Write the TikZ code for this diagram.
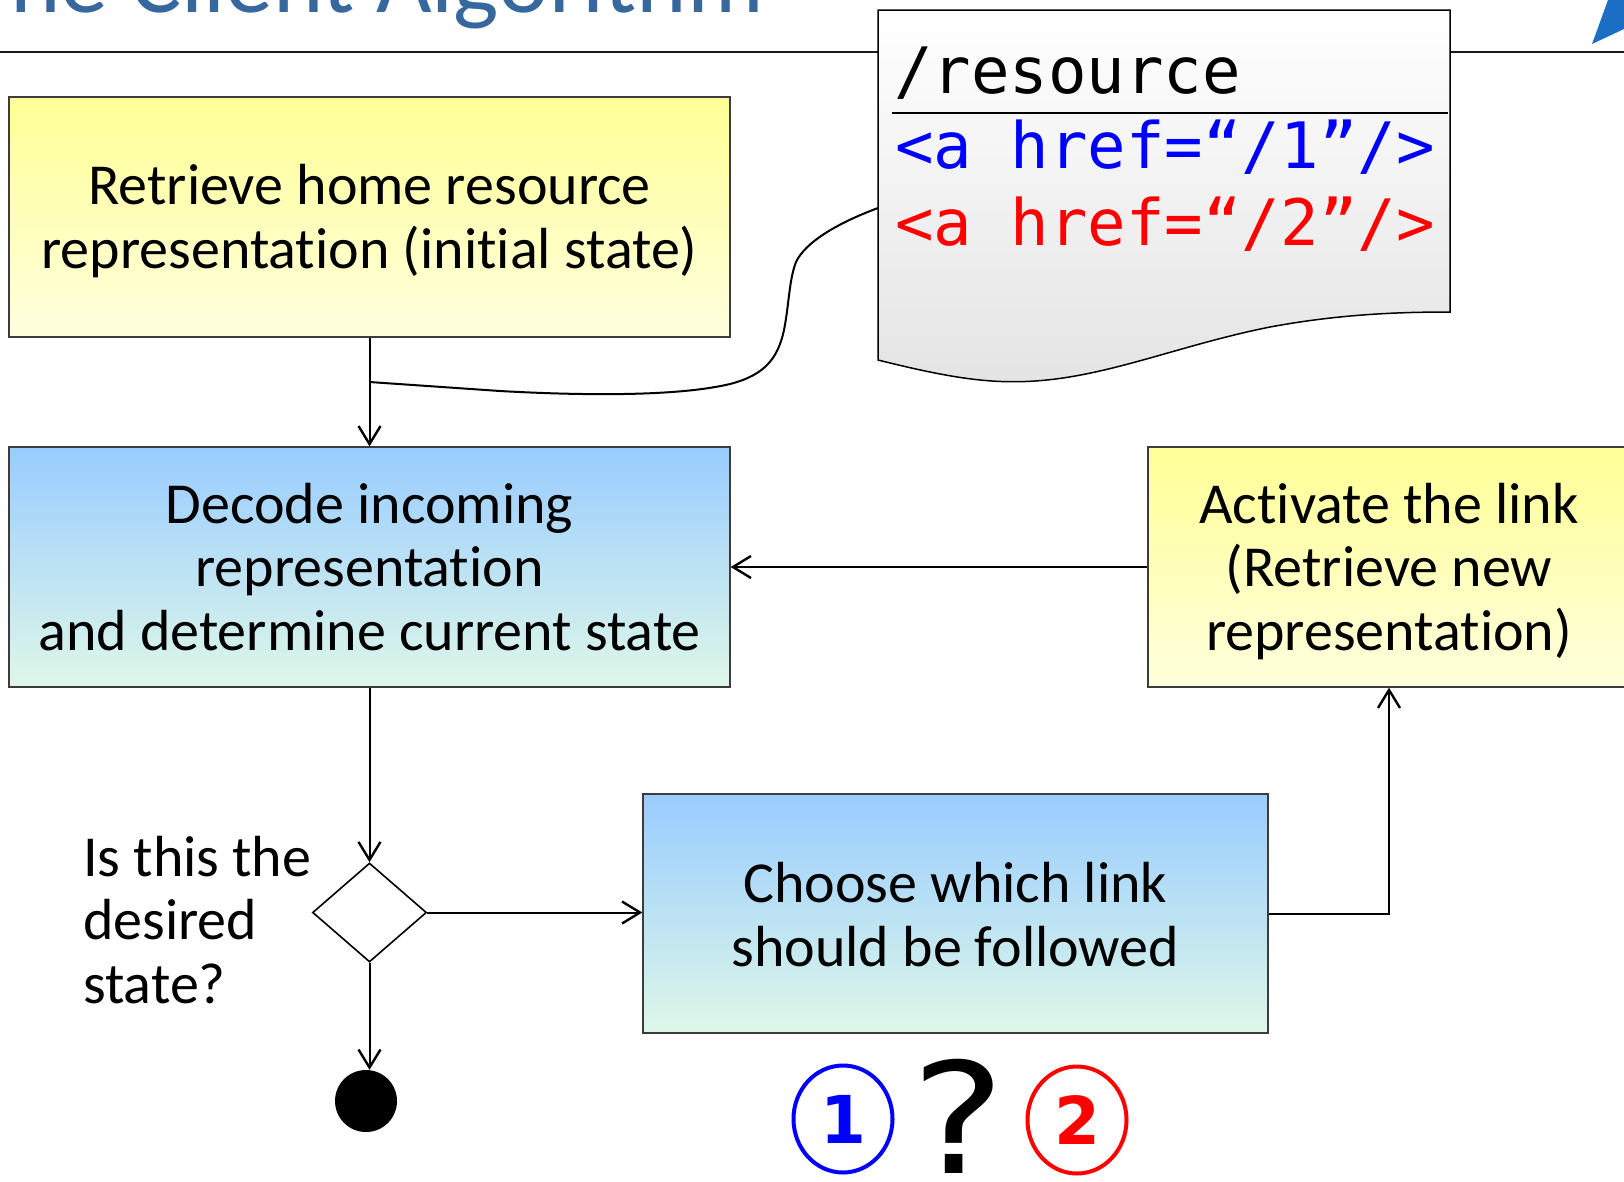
\documentclass[tikz,border=0pt]{standalone}
\usepackage{fontspec}
\setmainfont{Carlito}[Ligatures={TeX,NoCommon}]
\newfontfamily\codefont{DejaVu Sans Mono}
\newfontfamily\dvfont{DejaVu Sans}
\usetikzlibrary{arrows.meta,shapes.geometric}
\definecolor{titleblue}{RGB}{54,104,158}
\definecolor{logoblue}{RGB}{28,110,196}
\definecolor{yelTop}{RGB}{255,255,150}
\definecolor{yelBot}{RGB}{255,255,222}
\definecolor{bluTop}{RGB}{153,204,255}
\definecolor{bluBot}{RGB}{222,247,232}
\definecolor{boxline}{RGB}{60,60,60}
\definecolor{docBot}{RGB}{228,228,228}
\definecolor{codeblue}{RGB}{0,0,255}
\definecolor{codered}{RGB}{255,0,0}
\begin{document}
\begin{tikzpicture}[x=1pt,y=-1pt,
  box/.style={draw=boxline, line width=1.3pt, rectangle, inner sep=0pt},
  yelbox/.style={box, top color=yelTop, bottom color=yelBot},
  blubox/.style={box, top color=bluTop, bottom color=bluBot},
  boxtext/.style={inner sep=0pt, anchor=base, font=\fontsize{58}{63.5}\selectfont},
  conn/.style={line width=2pt, draw=black},
  arr/.style={conn, -{Straight Barb[length=18pt,width=22pt,line width=2.4pt]}},
  code/.style={inner sep=0pt, anchor=base west, font=\codefont\fontsize{64}{70}\selectfont},
  numcirc/.style={ellipse, line width=4pt, minimum width=99pt, minimum height=107pt, inner sep=0pt, font=\dvfont\bfseries\fontsize{66}{70}\selectfont}
]
\useasboundingbox (0,0) rectangle (1624,1181);
\clip (0,0) rectangle (1624,1181);

% title and header rule
\node[inner sep=0pt, anchor=base west, text=titleblue, font=\fontsize{96}{100}\selectfont] (title) at (10,12) {he Client Algorithm};
\draw[line width=2.4pt, black!90] (0,52) -- (1624,52);
\fill[logoblue] (1608,0) -- (1592,44) -- (1624,29) -- (1624,0) -- cycle;

% document shape
\draw[line width=1.5pt, top color=white, bottom color=docBot]
  (878,10) -- (1450,10) -- (1450,312)
  .. controls (1400,312) and (1340,314) .. (1270,327)
  .. controls (1180,345) and (1110,376) .. (1035,381)
  .. controls (990,384) and (950,378) .. (878,360) -- cycle;
\draw[line width=1.5pt] (892,113) -- (1448,113);
\node[code] (res) at (894,93) {/resource};
\node[code, text=codeblue] (link1) at (895,168) {<a href=“/1”/>};
\node[code, text=codered] (link2) at (895,245) {<a href=“/2”/>};

% boxes
\node[yelbox, minimum width=721pt, minimum height=240pt] (A) at (369.5,217) {};
\node[blubox, minimum width=721pt, minimum height=240pt] (B) at (369.5,567) {};
\node[yelbox, minimum width=482pt, minimum height=240pt] (C) at (1389,567) {};
\node[blubox, minimum width=625pt, minimum height=239pt] (D) at (955.5,913.5) {};

\node[boxtext] (tA) at (369.5,268) {\begin{tabular}[b]{@{}c@{}}Retrieve home resource\\representation (initial state)\end{tabular}};
\node[boxtext] (tB) at (369.5,650) {\begin{tabular}[b]{@{}c@{}}Decode incoming\\representation\\and determine current state\end{tabular}};
\node[boxtext] (tC) at (1389,650) {\begin{tabular}[b]{@{}c@{}}Activate the link\\(Retrieve new\\representation)\end{tabular}};
\node[boxtext] (tD) at (955.5,966) {\begin{tabular}[b]{@{}c@{}}Choose which link\\should be followed\end{tabular}};
\node[boxtext, anchor=base west] (tQ) at (83,1003) {\begin{tabular}[b]{@{}l@{}}Is this the\\desired\\state?\end{tabular}};

% decision and final
\node[diamond, draw=black, fill=white, line width=1.6pt, minimum width=114pt, minimum height=99pt, inner sep=0pt] (dia) at (369.5,912.5) {};
\node[circle, fill=black, minimum size=62pt, inner sep=0pt] (fin) at (366,1101) {};

% connectors
\coordinate (docin) at (878,208);
\coordinate (junc) at (369.5,382);
\draw[arr] (A.south) -- (B.north);
\draw[conn] (docin) .. controls (835,224) and (805,243) .. (796,262)
  .. controls (789,280) and (789,305) .. (784,330)
  .. controls (778,358) and (765,375) .. (730,384)
  .. controls (680,396) and (590,396) .. (500,391) -- (junc);
\draw[arr] (C.west) -- (B.east);
\draw[arr] (B.south) -- (dia.north);
\draw[arr] (dia.east) -- (dia.east -| D.west);
\draw[arr] (dia.south) -- (dia.south |- fin.north);
\draw[arr] (D.east) -| (C.south);

% choice symbols
\node[numcirc, draw=codeblue, text=codeblue] (c1) at (843,1119) {1};
\node[numcirc, draw=codered, text=codered] (c2) at (1077,1120) {2};
\node[inner sep=0pt, anchor=base, font=\dvfont\fontsize{154}{160}\selectfont] (qm) at (958,1173) {\scalebox{1.15}[1]{?}};
\end{tikzpicture}
\end{document}
